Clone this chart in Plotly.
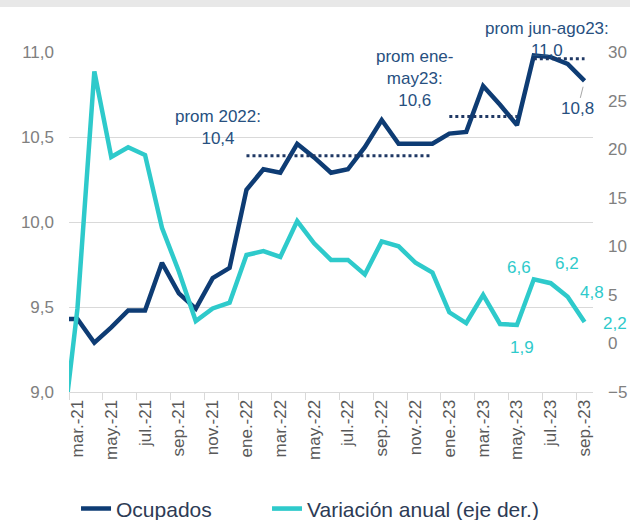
import plotly.graph_objects as go

# ---- data ----
months = ["feb.-21", "mar.-21", "abr.-21", "may.-21", "jun.-21", "jul.-21", "ago.-21",
          "sep.-21", "oct.-21", "nov.-21", "dic.-21", "ene.-22", "feb.-22", "mar.-22",
          "abr.-22", "may.-22", "jun.-22", "jul.-22", "ago.-22", "sep.-22", "oct.-22",
          "nov.-22", "dic.-22", "ene.-23", "feb.-23", "mar.-23", "abr.-23", "may.-23",
          "jun.-23", "jul.-23", "ago.-23", "sep.-23"]

ocupados = [9.43, 9.43, 9.29, 9.38, 9.48, 9.48, 9.76, 9.58, 9.49, 9.67, 9.73,
            10.19, 10.31, 10.29, 10.46, 10.38, 10.29, 10.31, 10.44, 10.60, 10.46,
            10.46, 10.46, 10.52, 10.53, 10.80, 10.69, 10.57, 10.98, 10.97, 10.93, 10.83]

variacion = [-11.3, 3.6, 28.0, 19.2, 20.2, 19.4, 11.9, 7.4, 2.3, 3.6, 4.2,
             9.1, 9.5, 8.9, 12.6, 10.3, 8.6, 8.6, 7.1, 10.5, 10.0, 8.3, 7.3,
             3.2, 2.1, 5.0, 2.0, 1.9, 6.6, 6.2, 4.8, 2.2]

# averages (dotted lines): start month, end month, value
prom_start = ["ene.-22", "ene.-23", "jun.-23"]
prom_end = ["dic.-22", "may.-23", "sep.-23"]
prom_value = [10.39, 10.62, 10.96]
prom_text = ["prom 2022:<br>10,4", "prom ene-<br>may23:<br>10,6", "prom jun-ago23:<br>11,0"]

# data labels on the variation series
var_label_months = ["may.-23", "jun.-23", "jul.-23", "ago.-23", "sep.-23"]
var_label_text = ["1,9", "6,6", "6,2", "4,8", "2,2"]

left_ticks = [9.0, 9.5, 10.0, 10.5, 11.0]
right_ticks = [-5, 0, 5, 10, 15, 20, 25, 30]

DARK = "#0E3C74"
CYAN = "#2ECACB"
TXT_BLUE = "#27507F"
FONT = "Arial, Liberation Sans, sans-serif"

fig = go.Figure()

fig.add_trace(go.Scatter(x=months, y=ocupados, name="Ocupados", mode="lines",
                         line=dict(color=DARK, width=4.5), yaxis="y", legendwidth=146))

for s, e, v in zip(prom_start, prom_end, prom_value):
    i0, i1 = months.index(s), months.index(e)
    fig.add_trace(go.Scatter(x=months[i0:i1 + 1], y=[v] * (i1 - i0 + 1), mode="lines",
                             line=dict(color="#1F3864", width=3, dash="dot"),
                             showlegend=False, hoverinfo="skip", yaxis="y"))

fig.add_trace(go.Scatter(x=months, y=variacion, name="Variación anual (eje der.)",
                         mode="lines", line=dict(color=CYAN, width=4.5), yaxis="y2",
                         legendwidth=290))

annotations = []
# average text blocks (x in category units, y as pixel row measured from the top)
prom_pos = [(9.33, 127), (20.94, 79), (28.8, 40)]
for (px, py), t in zip(prom_pos, prom_text):
    annotations.append(dict(x=px, y=1 - (py - 52) / 340, xref="x", yref="paper", text=t,
                            showarrow=False, yanchor="middle",
                            font=dict(family=FONT, size=17, color=TXT_BLUE),
                            align="center"))

# label for last ocupados value with leader line
annotations.append(dict(x=months[-1], y=ocupados[-1], xref="x", yref="y", text="10,8",
                        showarrow=True, arrowhead=0, arrowwidth=1, arrowcolor="#A6A6A6",
                        ax=-7, ay=28, standoff=6,
                        font=dict(family=FONT, size=17, color=TXT_BLUE)))

shifts = [(5, -23), (-15, 12), (16, 20), (24, 4), (30, -1)]
for m, t, (dx, dy) in zip(var_label_months, var_label_text, shifts):
    annotations.append(dict(x=m, y=variacion[months.index(m)], xref="x", yref="y2",
                            text=t, showarrow=False, xshift=dx, yshift=dy,
                            font=dict(family=FONT, size=17, color=CYAN)))

fig.update_layout(
    width=630, height=520,
    margin=dict(l=69, r=37, t=52, b=128, autoexpand=False),
    paper_bgcolor="white", plot_bgcolor="white",
    separators=", ",
    font=dict(family=FONT),
    showlegend=True,
    legend=dict(orientation="h", x=0.0134, xanchor="left", y=-0.344, yanchor="middle",
                font=dict(family=FONT, size=21, color="#2D3B55"),
                bgcolor="rgba(0,0,0,0)", borderwidth=0),
    xaxis=dict(type="category", categoryorder="array", categoryarray=months,
               range=[0.5, 31.5], tickmode="linear", tick0=1, dtick=2,
               tickson="boundaries", ticks="outside", ticklen=7, tickcolor="#D9D9D9",
               showline=True, linecolor="#D9D9D9", linewidth=1, showgrid=False,
               tickangle=-90, tickfont=dict(family=FONT, size=17, color="#595959"),
               zeroline=False, automargin=False),
    yaxis=dict(range=[9, 11], tickmode="array", tickvals=left_ticks, tickformat=".1f",
               showgrid=True, gridcolor="#D9D9D9", gridwidth=1, zeroline=False,
               showline=False, ticklabelstandoff=14, automargin=False,
               tickfont=dict(family=FONT, size=17, color="#808080")),
    yaxis2=dict(range=[-5, 30], tickmode="array", tickvals=right_ticks, overlaying="y",
                side="right", showgrid=False, zeroline=False, showline=False,
                ticklabelstandoff=14, automargin=False,
                tickfont=dict(family=FONT, size=17, color="#808080")),
    annotations=annotations,
    shapes=[dict(type="rect", xref="paper", yref="paper", x0=-0.2, x1=1.2,
                 y0=1 + 45 / 340, y1=1.3, fillcolor="#E8E8E8", line=dict(width=0),
                 layer="below")],
)

fig.write_html("out.html",
               config={"displayModeBar": False},
               post_script="document.body.style.margin='0px';document.body.style.overflow='hidden';")
